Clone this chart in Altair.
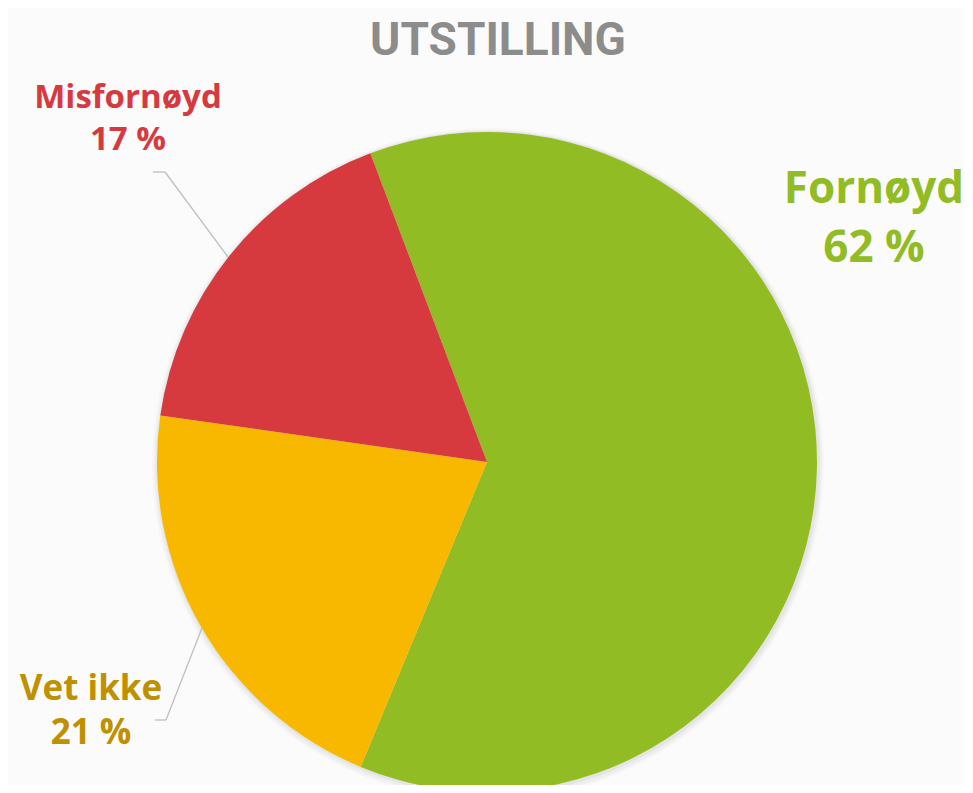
import math
import altair as alt
import pandas as pd

# ---- data ----
categories = ["Fornøyd", "Vet ikke", "Misfornøyd"]
values = [62, 21, 17]
slice_colors = ["#92bc24", "#f9b800", "#d63a3f"]
label_colors = ["#92bc24", "#bf9000", "#d63a3f"]
title_text = "UTSTILLING"

df = pd.DataFrame({"cat": categories, "value": values, "idx": list(range(len(categories)))})

# ---- layout / style ----
W, H = 957, 777
CX, CY, R = 479, 454, 330
START = math.radians(-20.7)
LABEL_FONT = "Open Sans"
label_style = {
    "Fornøyd": dict(x=866, y1=195, y2=254, size=44),
    "Vet ikke": dict(x=83, y1=692, y2=736, size=35),
    "Misfornøyd": dict(x=120, y1=100, y2=142, size=33),
}
leaders = [
    [(145, 164), (157, 164), (220, 249)],
    [(147, 712), (158, 712), (194, 620)],
]

theta = alt.Theta("value:Q", stack=True,
                  scale=alt.Scale(range=[START, START + 2 * math.pi]))
color = alt.Color("cat:N", scale=alt.Scale(domain=categories, range=slice_colors), legend=None)

base = alt.Chart(df)

shadows = [
    base.mark_arc(radius=R + r, color="#000000", opacity=op).encode(
        theta=theta, x=alt.value(CX + dx), y=alt.value(CY + dy))
    for r, op, dx, dy in [(6, 0.02, 1, 2), (4, 0.03, 1, 2), (2, 0.04, 1, 1)]
]

pie = base.mark_arc(radius=R, stroke=None).encode(
    theta=theta, color=color, order=alt.Order("idx:Q"),
    x=alt.value(CX), y=alt.value(CY),
)

layers = shadows + [pie]

for pts in leaders:
    for (x1, y1), (x2, y2) in zip(pts[:-1], pts[1:]):
        layers.append(
            alt.Chart(df.head(1)).mark_rule(color="#bfbfbf", strokeWidth=1.3).encode(
                x=alt.value(x1), y=alt.value(y1), x2=alt.value(x2), y2=alt.value(y2))
        )

for cat, val, col in zip(categories, values, label_colors):
    st = label_style[cat]
    for txt, yy in [(cat, st["y1"]), (f"{val} %", st["y2"])]:
        layers.append(
            alt.Chart(df.head(1)).mark_text(
                text=txt, font=LABEL_FONT, fontWeight="bold", fontSize=st["size"],
                color=col, align="center", baseline="alphabetic",
            ).encode(x=alt.value(st["x"]), y=alt.value(yy))
        )

layers.append(
    alt.Chart(df.head(1)).mark_text(
        text=title_text, font="Roboto", fontWeight="bold",
        fontSize=46, color="#8c8c8c", align="center", baseline="alphabetic",
    ).encode(x=alt.value(490), y=alt.value(47))
)

chart = alt.layer(*layers).properties(
    width=W, height=H, autosize=alt.AutoSizeParams(type="none"), padding=0,
    background="#fbfbfb",
).configure_view(stroke=None)

chart.save("out.html", embed_options={"renderer": "svg", "actions": False})
